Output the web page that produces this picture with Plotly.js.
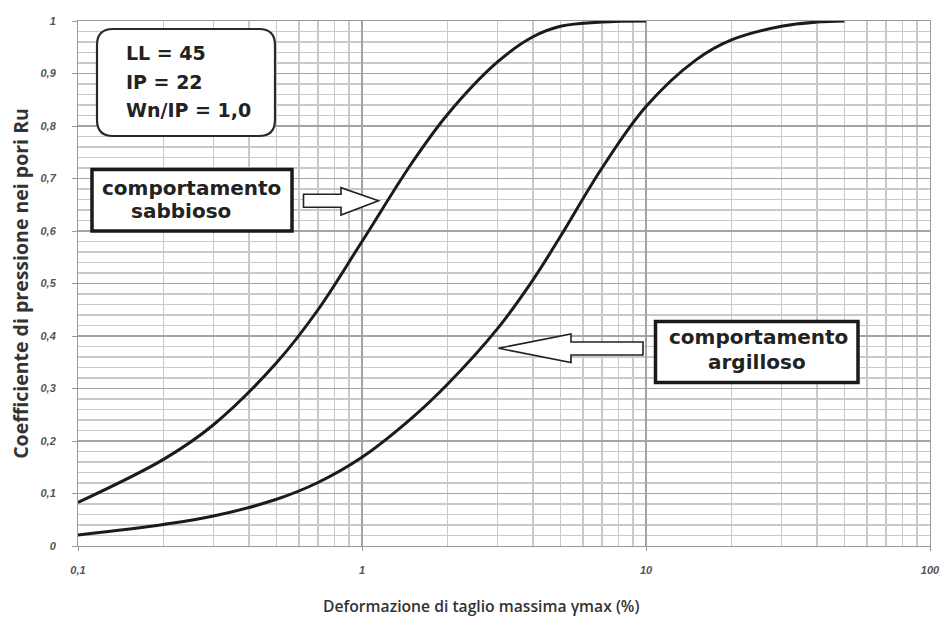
<!DOCTYPE html>
<html>
<head>
<meta charset="utf-8">
<script src="https://cdn.plot.ly/plotly-3.0.1.min.js"></script>
<style>
  html, body { margin: 0; padding: 0; background: #fff; }
  #chart { width: 942px; height: 617px; }
</style>
</head>
<body>
<div id="chart"></div>
<script>
// Maximum shear strain (%) and pore-pressure ratio Ru for the two behaviours
const strainSand = [0.1, 0.2, 0.3, 0.5, 0.7, 1.0, 1.5, 2, 3, 4, 5, 7, 10];
const ruSand     = [0.083, 0.165, 0.231, 0.349, 0.450, 0.580, 0.730, 0.822, 0.922, 0.970, 0.990, 0.998, 1.0];

const strainClay = [0.1, 0.2, 0.3, 0.5, 0.7, 1.0, 1.5, 2, 3, 4, 5, 7, 10, 15, 20, 30, 40, 50];
const ruClay     = [0.021, 0.041, 0.057, 0.089, 0.121, 0.169, 0.244, 0.308, 0.414, 0.507, 0.590, 0.720, 0.837, 0.926, 0.964, 0.990, 0.998, 1.0];

const xTickVals  = [0.1, 1, 10, 100];
const xTickText  = ['0,1', '1', '10', '100'];
const xMinorVals = [0.2, 0.3, 0.4, 0.5, 0.6, 0.7, 0.8, 0.9,
                    2, 3, 4, 5, 6, 7, 8, 9,
                    20, 30, 40, 50, 60, 70, 80, 90];

const paramLines = ['LL = 45', 'IP = 22', 'Wn/IP = 1,0'];

// Plot-area geometry in page pixels, used to place the boxes and arrows
const W = 942, H = 617;
const M = { l: 78, r: 12, t: 21, b: 71 };
const PW = W - M.l - M.r, PH = H - M.t - M.b;
const px = v => (v - M.l) / PW;
const py = v => (H - M.b - v) / PH;

function poly(points) {
  return points.map((p, i) => (i ? 'L' : 'M') + px(p[0]).toFixed(5) + ',' + py(p[1]).toFixed(5)).join(' ') + ' Z';
}

function roundRect(x0, y0, x1, y1, r) {
  const P = (x, y) => px(x).toFixed(5) + ',' + py(y).toFixed(5);
  return 'M' + P(x0 + r, y0) + ' L' + P(x1 - r, y0) + ' Q' + P(x1, y0) + ' ' + P(x1, y0 + r) +
         ' L' + P(x1, y1 - r) + ' Q' + P(x1, y1) + ' ' + P(x1 - r, y1) +
         ' L' + P(x0 + r, y1) + ' Q' + P(x0, y1) + ' ' + P(x0, y1 - r) +
         ' L' + P(x0, y0 + r) + ' Q' + P(x0, y0) + ' ' + P(x0 + r, y0) + ' Z';
}

const curveLine = { color: '#1b1b1b', width: 3, shape: 'spline', smoothing: 1 };

const traces = [
  { x: strainSand, y: ruSand, type: 'scatter', mode: 'lines', line: curveLine, name: 'comportamento sabbioso', hoverinfo: 'x+y' },
  { x: strainClay, y: ruClay, type: 'scatter', mode: 'lines', line: curveLine, name: 'comportamento argilloso', hoverinfo: 'x+y' }
];

const paramFont = { family: 'DejaVu Sans', size: 19, color: '#222', weight: 700 };
const labelFont = { family: 'DejaVu Sans', size: 20, color: '#222', weight: 700 };

const shapes = [
  // parameter box with rounded corners
  { type: 'path', xref: 'paper', yref: 'paper', layer: 'above',
    path: roundRect(97, 29, 275, 136, 16),
    fillcolor: '#fff', line: { color: '#2a2a2a', width: 2.2 } },
  // sandy behaviour label box
  { type: 'rect', xref: 'paper', yref: 'paper', layer: 'above',
    x0: px(92), x1: px(292), y0: py(169.5), y1: py(231),
    fillcolor: '#fff', line: { color: '#1a1a1a', width: 3.5 } },
  // clayey behaviour label box
  { type: 'rect', xref: 'paper', yref: 'paper', layer: 'above',
    x0: px(655.5), x1: px(858), y0: py(321.5), y1: py(382.5),
    fillcolor: '#fff', line: { color: '#1a1a1a', width: 3.5 } },
  // right-pointing block arrow
  { type: 'path', xref: 'paper', yref: 'paper', layer: 'above',
    path: poly([[303.5, 194.3], [341, 194.3], [341, 187.7], [378.5, 200.8], [341, 215], [341, 207.3], [303.5, 207.3]]),
    fillcolor: '#fff', line: { color: '#222', width: 1.6 } },
  // left-pointing block arrow
  { type: 'path', xref: 'paper', yref: 'paper', layer: 'above',
    path: poly([[643, 342], [571, 342], [571, 334], [498.5, 348.3], [571, 362.5], [571, 355], [643, 355]]),
    fillcolor: '#fff', line: { color: '#222', width: 1.6 } }
];

const annotations = [
  { text: paramLines[0], xref: 'paper', yref: 'paper', x: px(124), y: py(53), xanchor: 'left', yanchor: 'middle', showarrow: false, font: paramFont },
  { text: paramLines[1], xref: 'paper', yref: 'paper', x: px(124), y: py(82.5), xanchor: 'left', yanchor: 'middle', showarrow: false, font: paramFont },
  { text: paramLines[2], xref: 'paper', yref: 'paper', x: px(124), y: py(110.5), xanchor: 'left', yanchor: 'middle', showarrow: false, font: paramFont },

  { text: 'comportamento', xref: 'paper', yref: 'paper', x: px(191), y: py(188), xanchor: 'center', yanchor: 'middle', showarrow: false, font: labelFont },
  { text: 'sabbioso', xref: 'paper', yref: 'paper', x: px(181), y: py(211), xanchor: 'center', yanchor: 'middle', showarrow: false, font: labelFont },

  { text: 'comportamento', xref: 'paper', yref: 'paper', x: px(758.5), y: py(337), xanchor: 'center', yanchor: 'middle', showarrow: false, font: labelFont },
  { text: 'argilloso', xref: 'paper', yref: 'paper', x: px(757), y: py(361.5), xanchor: 'center', yanchor: 'middle', showarrow: false, font: labelFont },

  // x-axis title
  { text: 'Deformazione di taglio massima γmax (%)', xref: 'paper', yref: 'paper',
    x: px(481), y: py(606), xanchor: 'center', yanchor: 'middle', showarrow: false,
    font: { family: 'Open Sans', size: 15.7, color: '#333', weight: 600 } }
];

const tickFont = { family: 'Liberation Sans', size: 11, color: '#555', style: 'italic', weight: 700 };

const layout = {
  width: W, height: H,
  margin: M,
  paper_bgcolor: '#fff',
  plot_bgcolor: '#fff',
  showlegend: false,
  separators: ', ',
  xaxis: {
    type: 'log',
    range: [-1, 2],
    tickmode: 'array', tickvals: xTickVals, ticktext: xTickText,
    ticks: 'outside', ticklen: 4, tickcolor: '#999', tickwidth: 1,
    ticklabelstandoff: 10,
    tickfont: tickFont,
    showgrid: true, gridcolor: '#a4a4a4', gridwidth: 1.1,
    minor: { tickmode: 'array', tickvals: xMinorVals, showgrid: true, gridcolor: '#c9c9c9', gridwidth: 1.1, ticks: '' },
    showline: true, linecolor: '#9a9a9a', linewidth: 1, mirror: true,
    zeroline: false
  },
  yaxis: {
    range: [0, 1],
    tickmode: 'linear', tick0: 0, dtick: 0.1,
    ticks: 'outside', ticklen: 5, tickcolor: '#999', tickwidth: 1,
    ticklabelstandoff: 14,
    tickfont: tickFont,
    showgrid: true, gridcolor: '#a4a4a4', gridwidth: 1.1,
    minor: { dtick: 0.02, showgrid: true, gridcolor: '#c9c9c9', gridwidth: 1.1, ticks: '' },
    showline: true, linecolor: '#9a9a9a', linewidth: 1, mirror: true,
    zeroline: false,
    title: { text: 'Coefficiente di pressione nei pori Ru', standoff: 6,
             font: { family: 'Open Sans', size: 19.5, color: '#333', weight: 700 } }
  },
  shapes: shapes,
  annotations: annotations
};

Plotly.newPlot('chart', traces, layout, { staticPlot: true, displayModeBar: false });
</script>
</body>
</html>
